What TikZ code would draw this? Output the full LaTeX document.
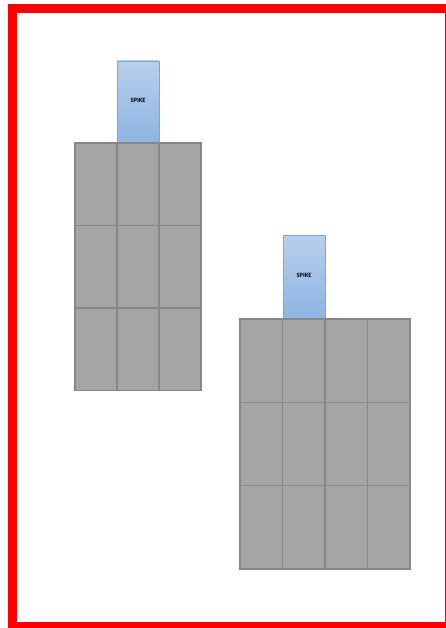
\documentclass[tikz,border=0pt]{standalone}
\usepackage{fontspec}
\setmainfont{Carlito}
\usepackage{xcolor}
\usetikzlibrary{positioning}
\definecolor{framered}{RGB}{255,0,0}
\definecolor{cellgray}{RGB}{165,165,165}
\definecolor{celledge}{RGB}{135,135,135}
\definecolor{spiketop}{RGB}{184,207,236}
\definecolor{spikebot}{RGB}{141,180,227}
\definecolor{spikeedge}{RGB}{125,165,215}

\begin{document}
\begin{tikzpicture}[x=1pt, y=-1pt,
    cell/.style={draw=celledge, fill=cellgray, line width=1.3pt, inner sep=0pt, minimum width=42pt, minimum height=82.5pt},
    cellb/.style={cell, minimum width=42.5pt, minimum height=83.3pt},
    spike/.style={draw=spikeedge, line width=0.9pt, top color=spiketop, bottom color=spikebot, inner sep=0pt, minimum width=42pt, minimum height=82pt, font=\fontsize{6.5}{7}\selectfont\bfseries}]
    \useasboundingbox (0,0) rectangle (445,628);
    % red frame
    \draw[framered, line width=9pt] (12.5,8.5) rectangle (449.5,626.5);
    % left stack
    \node[spike] (spikeA) at (138,102) {\raisebox{4pt}{SPIKE}};
    \node[cell] (a11) at (96,184.25) {};
    \node[cell] (a12) at (138,184.25) {};
    \node[cell] (a13) at (180,184.25) {};
    \node[cell] (a21) at (96,266.75) {};
    \node[cell] (a22) at (138,266.75) {};
    \node[cell] (a23) at (180,266.75) {};
    \node[cell] (a31) at (96,349.25) {};
    \node[cell] (a32) at (138,349.25) {};
    \node[cell] (a33) at (180,349.25) {};
    % right stack
    \node[spike, minimum height=84pt] (spikeB) at (304,277) {\raisebox{4pt}{SPIKE}};
    \node[cellb] (b11) at (261.25,360.65) {};
    \node[cellb] (b12) at (303.75,360.65) {};
    \node[cellb] (b13) at (346.25,360.65) {};
    \node[cellb] (b14) at (388.75,360.65) {};
    \node[cellb] (b21) at (261.25,443.95) {};
    \node[cellb] (b22) at (303.75,443.95) {};
    \node[cellb] (b23) at (346.25,443.95) {};
    \node[cellb] (b24) at (388.75,443.95) {};
    \node[cellb] (b31) at (261.25,527.25) {};
    \node[cellb] (b32) at (303.75,527.25) {};
    \node[cellb] (b33) at (346.25,527.25) {};
    \node[cellb] (b34) at (388.75,527.25) {};
\end{tikzpicture}
\end{document}
